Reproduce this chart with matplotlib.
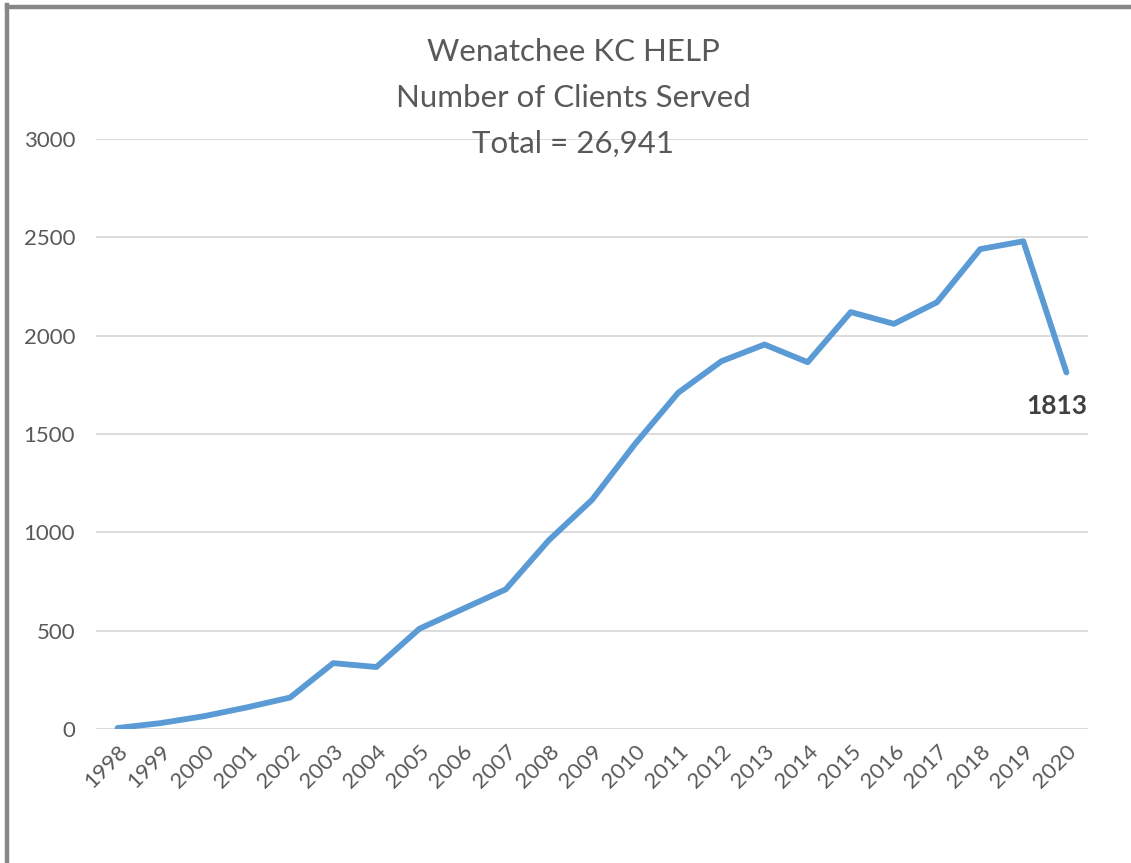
import matplotlib.pyplot as plt
from matplotlib.lines import Line2D

years = [str(y) for y in range(1998, 2021)]
clients = [5, 30, 65, 110, 160, 335, 315, 510, 610, 710, 960, 1165, 1450,
           1710, 1870, 1955, 1865, 2120, 2060, 2170, 2440, 2480, 1813]
y_ticks = [0, 500, 1000, 1500, 2000, 2500, 3000]
title_lines = ["Wenatchee KC HELP", "Number of Clients Served", "Total = 26,941"]

plt.rcParams['font.family'] = ['Lato', 'DejaVu Sans']

fig = plt.figure(figsize=(11.31, 8.63), dpi=100)
ax = fig.add_axes([96 / 1131, 1 - 729 / 863, 992 / 1131, 590 / 863])

x = list(range(len(years)))
ax.plot(x, clients, color='#5B9BD5', lw=4.2, solid_joinstyle='round',
        solid_capstyle='round', zorder=3)

ax.set_xlim(-0.5, len(years) - 0.5)
ax.set_ylim(0, 3000)
ax.set_yticks(y_ticks)
ax.set_xticks(x)
ax.set_xticklabels(years, rotation=45, ha='right', va='top',
                   rotation_mode='anchor')
ax.tick_params(axis='both', length=0, colors='#595959', labelsize=16)
ax.tick_params(axis='y', pad=15)
ax.tick_params(axis='x', pad=9)
ax.grid(axis='y', color='#D9D9D9', lw=1.3)
ax.set_axisbelow(True)
for s in ax.spines.values():
    s.set_visible(False)

# last point label
ax.annotate(str(clients[-1]), (x[-1], clients[-1]), xytext=(-7, -24),
            textcoords='offset points', ha='center', va='center',
            fontsize=19, fontweight='bold', color='#404040')

# title
for i, t in enumerate(title_lines):
    fig.text(573 / 1131, 1 - (52 + 46 * i) / 863, t, ha='center', va='center',
             fontsize=22.5, color='#595959')

# frame on top and left
fig.add_artist(Line2D([7 / 1131, 1], [1 - 7 / 863] * 2, color='#878787',
                      lw=3.2, transform=fig.transFigure))
fig.add_artist(Line2D([7 / 1131] * 2, [0, 1 - 5.5 / 863], color='#878787',
                      lw=3.2, transform=fig.transFigure))

fig.savefig('out.png', dpi=100)
